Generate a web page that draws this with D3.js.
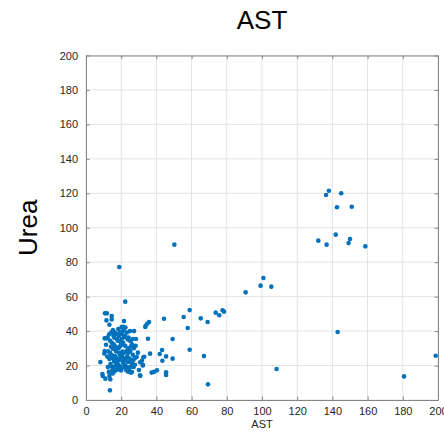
<!DOCTYPE html>
<html>
<head>
<meta charset="utf-8">
<script src="https://cdn.jsdelivr.net/npm/d3@7"></script>
<style>
  body { margin: 0; background: #fff; }
  svg { display: block; font-family: "Liberation Sans", Arial, Helvetica, sans-serif; }
</style>
</head>
<body>
<div id="chart"></div>
<script>
// chart values
var titleText = "AST";
var xLabel = "AST";
var yLabel = "Urea";
var xTicks = [0, 20, 40, 60, 80, 100, 120, 140, 160, 180, 200];
var yTicks = [0, 20, 40, 60, 80, 100, 120, 140, 160, 180, 200];

// dense cluster of low AST values
var clusterPoints = [
    [12.3,36.4],[12.6,28.3],[12.1,25.2],[12.4,19.1],
    [13.2,38.2],[13.6,34.5],[13.7,27.4],[13.3,23.8],[13.9,20.9],[13.0,16.3],
    [14.4,39.3],[14.7,33.2],[14.2,30.9],[14.3,26.1],[14.8,24.4],[14.5,19.6],[14.9,17.3],
    [15.3,40.6],[15.6,37.3],[15.8,32.4],[15.2,29.8],[15.4,25.6],[15.9,23.2],[15.5,18.8],[15.2,15.4],
    [16.4,39.1],[16.1,36.2],[16.3,31.3],[16.8,29.2],[16.6,25.3],[16.0,22.4],[16.9,20.2],[16.1,16.6],
    [17.2,38.4],[17.7,35.3],[17.9,30.4],[17.1,28.2],[17.3,24.1],[17.8,21.6],[17.5,17.4],
    [18.3,41.2],[18.6,37.2],[18.1,34.4],[18.4,30.1],[18.9,27.4],[18.7,23.2],[18.5,20.3],[18.0,18.4],
    [19.4,39.4],[19.7,33.4],[19.3,31.2],[19.2,26.2],[19.6,24.4],[19.5,19.3],[19.9,17.1],
    [20.2,42.3],[20.6,38.2],[20.3,35.4],[20.8,32.2],[20.7,28.1],[20.4,25.3],[20.9,22.4],[20.2,18.2],
    [21.3,40.3],[21.7,36.4],[21.1,33.2],[21.4,27.3],[21.9,24.2],[21.2,21.4],[21.8,19.1],
    [22.4,42.1],[22.1,37.3],[22.3,31.4],[22.8,28.2],[22.6,23.3],[22.0,20.4],[22.9,17.2],
    [23.3,39.2],[23.7,35.1],[23.6,29.1],[23.4,25.4],[23.9,22.1],[23.2,19.3],
    [24.2,36.2],[24.4,30.2],[24.1,27.4],[24.8,24.1],[24.6,18.3],
    [25.3,34.1],[25.7,31.3],[25.2,28.4],[25.8,22.2],[25.4,19.4],
    [26.2,32.2],[26.6,26.3],[26.3,21.1],[26.1,16.2],
    [27.2,30.1],[27.6,24.2],[27.1,19.2]
];

// sparse points around the cluster and further out
var outerPoints = [
    [8.2,22],[9.3,15.1],[9.5,13.9],[11,12.4],[13.8,12],[13.3,13.9],[13.6,5.6],
    [10.8,50.3],[11.9,50.3],[14.6,48.7],[14.6,46.8],[11.6,46.2],[13.3,43.7],
    [10.6,35.8],[11.7,35.8],[10.6,28.4],[11.4,32.1],[10.4,27],
    [21.6,45.8],[21.2,42.5],[25,40],[27.3,40],[26.5,35.4],[28.4,35.4],[28.2,31.5],
    [26.9,23.2],[30.7,21.9],[32.4,20.3],[30.1,17.4],[30.9,14.1],[25.4,15.9],[24,16.4],
    [28.8,24.9],[33.1,25.1],[29.5,27.5],[27.8,20.5],[31.8,22.8],[32.6,24.8],[32.2,20.1],
    [18.9,77.2],[22.3,57.1],[50.2,90.2],
    [33.7,42.4],[33.9,43.1],[34.8,44.3],[35.8,45.3],[35.2,35.6],[44.3,47.2],
    [36.4,26.9],[41.9,26.7],[43.2,29],[45.5,25.3],[43.4,22.8],[49.2,24],[49.2,35.4],
    [30.7,14.3],[37.3,15.9],[38.6,16.3],[40.3,17.2],[45.5,16.1],[45.5,14.5],
    [55.5,48.2],[58.9,52.2],[57.8,41.8],[58.9,29.2],[65.2,47.4],[67,25.5],[69.1,45.3],[69.3,9.1],
    [73.7,50.7],[75.7,49.2],[77.6,52.1],[78.4,51.3],
    [90.7,62.5],[99.2,66.4],[100.8,70.8],[105.3,65.8],[108.3,18],
    [132,92.5],[136.7,90.2],[136.4,119],[138,121.5],[145,120],[142.6,111.9],[151,112.2],
    [141.9,96],[150,93.5],[149.2,91.1],[158.7,89.2],[143,39.5],[180.7,13.7],[198.7,25.7]
];

var width = 444;
var height = 433;
var margin = {left: 86, right: 6, top: 55.5, bottom: 33};

var svg = d3.select("#chart").append("svg")
    .attr("width", width)
    .attr("height", height);

var x = d3.scaleLinear().domain([0, 200]).range([margin.left, width - margin.right]);
var y = d3.scaleLinear().domain([0, 200]).range([height - margin.bottom, margin.top]);

//grid lines
svg.append("g").selectAll("line.gx")
    .data(xTicks)
    .enter().append("line")
    .attr("x1", function (d) { return x(d); })
    .attr("x2", function (d) { return x(d); })
    .attr("y1", y(0))
    .attr("y2", y(200))
    .attr("stroke", "#e3e3e3")
    .attr("stroke-width", 1);

svg.append("g").selectAll("line.gy")
    .data(yTicks)
    .enter().append("line")
    .attr("x1", x(0))
    .attr("x2", x(200))
    .attr("y1", function (d) { return y(d); })
    .attr("y2", function (d) { return y(d); })
    .attr("stroke", "#e3e3e3")
    .attr("stroke-width", 1);

//axes with inward ticks, box on all four sides
var tickLen = 3.5;
var bottomAxis = svg.append("g")
    .attr("transform", "translate(0," + y(0) + ")")
    .call(d3.axisBottom(x).tickValues(xTicks).tickSizeInner(-tickLen).tickSizeOuter(0).tickPadding(7));
var leftAxis = svg.append("g")
    .attr("transform", "translate(" + x(0) + ",0)")
    .call(d3.axisLeft(y).tickValues(yTicks).tickSizeInner(-tickLen).tickSizeOuter(0).tickPadding(8));
var topAxis = svg.append("g")
    .attr("transform", "translate(0," + y(200) + ")")
    .call(d3.axisTop(x).tickValues(xTicks).tickSizeInner(-tickLen).tickSizeOuter(0).tickFormat(""));
var rightAxis = svg.append("g")
    .attr("transform", "translate(" + x(200) + ",0)")
    .call(d3.axisRight(y).tickValues(yTicks).tickSizeInner(-tickLen).tickSizeOuter(0).tickFormat(""));

[bottomAxis, leftAxis, topAxis, rightAxis].forEach(function (g) {
    g.select(".domain").attr("stroke", "#858585");
    g.selectAll(".tick line").attr("stroke", "#858585");
    g.selectAll("text")
        .attr("fill", "#262626")
        .style("font-size", "11px")
        .style("font-family", "'Liberation Sans', Arial, sans-serif");
});

//points
var allPoints = clusterPoints.concat(outerPoints);
svg.append("g").selectAll("circle")
    .data(allPoints)
    .enter().append("circle")
    .attr("cx", function (d) { return x(d[0]); })
    .attr("cy", function (d) { return y(d[1]); })
    .attr("r", 2.3)
    .attr("fill", "#0072BD");

//title and labels
svg.append("text")
    .attr("x", (x(0) + x(200)) / 2)
    .attr("y", 28.5)
    .attr("text-anchor", "middle")
    .attr("fill", "#000")
    .style("font-size", "26px")
    .text(titleText);

svg.append("text")
    .attr("x", (x(0) + x(200)) / 2)
    .attr("y", 428)
    .attr("text-anchor", "middle")
    .attr("fill", "#262626")
    .style("font-size", "11px")
    .text(xLabel);

svg.append("text")
    .attr("transform", "translate(37," + ((y(0) + y(200)) / 2) + ") rotate(-90)")
    .attr("text-anchor", "middle")
    .attr("fill", "#000")
    .style("font-size", "26px")
    .text(yLabel);
</script>
</body>
</html>
